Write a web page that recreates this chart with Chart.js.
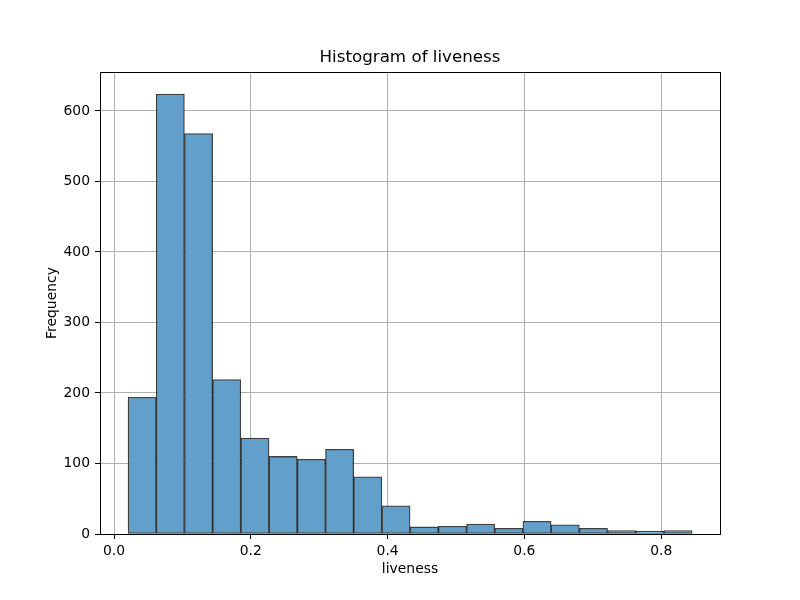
<!DOCTYPE html>
<html>
<head>
<meta charset="utf-8">
<script src="https://cdn.jsdelivr.net/npm/chart.js@4.4.1/dist/chart.umd.min.js"></script>
<style>
  html, body { margin: 0; padding: 0; background: #fff; }
  #wrap { width: 800px; height: 600px; }
</style>
</head>
<body>
<div id="wrap"><canvas id="c" width="800" height="600"></canvas></div>
<script>
// Bin centers (liveness) and frequencies
const binCenters = [0.0411, 0.0823, 0.1236, 0.1648, 0.2061, 0.2473, 0.2886, 0.3298, 0.3710, 0.4123,
                    0.4535, 0.4948, 0.5360, 0.5773, 0.6185, 0.6597, 0.7010, 0.7422, 0.7835, 0.8247];
const frequencies = [194, 624, 568, 219, 136, 110, 106, 120, 81, 40,
                     10, 11, 14, 8, 18, 13, 8, 5, 4, 5];
const xTickValues = [0.0, 0.2, 0.4, 0.6, 0.8];
const yTickValues = [0, 100, 200, 300, 400, 500, 600];

const FONT = 'DejaVu Sans';

const framePlugin = {
  id: 'frame',
  afterDatasetsDraw(chart) {
    const {ctx, chartArea: a} = chart;
    ctx.save();
    ctx.strokeStyle = '#000';
    ctx.lineWidth = 1;
    ctx.strokeRect(Math.round(a.left) + 0.5, Math.round(a.top) + 0.5,
                   Math.round(a.right - a.left), Math.round(a.bottom - a.top));
    ctx.restore();
  }
};

new Chart(document.getElementById('c'), {
  type: 'bar',
  data: {
    datasets: [{
      data: binCenters.map((x, i) => ({x: x, y: frequencies[i]})),
      backgroundColor: '#62a0cb',
      borderColor: 'rgba(0,0,0,0.75)',
      borderWidth: 1.3,
      borderSkipped: false,
      barPercentage: 1,
      categoryPercentage: 1,
      yAxisID: 'y'
    }]
  },
  plugins: [framePlugin],
  options: {
    responsive: false,
    devicePixelRatio: 1,
    animation: false,
    layout: { padding: { left: 20, right: 0, top: 0, bottom: 0 } },
    plugins: {
      legend: { display: false },
      tooltip: { enabled: false },
      title: {
        display: true,
        text: 'Histogram of liveness',
        color: '#000',
        font: { family: FONT, size: 16.7, weight: 'normal', lineHeight: 1.2 },
        padding: { top: 48, bottom: 4 }
      }
    },
    scales: {
      x: {
        type: 'linear',
        min: -0.0205,
        max: 0.886,
        offset: false,
        grid: {
          offset: false,
          color: '#b0b0b0',
          lineWidth: 1,
          drawTicks: true,
          tickLength: 5,
          tickColor: '#000',
          tickWidth: 1
        },
        border: { display: false },
        afterBuildTicks(scale) { scale.ticks = xTickValues.map(v => ({value: v})); },
        afterFit(scale) { scale.height = 66; },
        ticks: {
          color: '#000',
          padding: 4,
          maxRotation: 0,
          autoSkip: false,
          font: { family: FONT, size: 13.9 },
          callback: (v) => Number(v).toFixed(1)
        },
        title: {
          display: true,
          text: 'liveness',
          color: '#000',
          font: { family: FONT, size: 13.9, lineHeight: 1.2 },
          padding: { top: 4, bottom: 22.7 }
        }
      },
      y: {
        position: 'left',
        min: 0,
        max: 655.2,
        grid: {
          color: '#b0b0b0',
          lineWidth: 1,
          drawTicks: true,
          tickLength: 5,
          tickColor: '#000',
          tickWidth: 1
        },
        border: { display: false },
        afterBuildTicks(scale) { scale.ticks = yTickValues.map(v => ({value: v})); },
        afterFit(scale) { scale.width = 80; },
        ticks: {
          color: '#000',
          padding: 5,
          autoSkip: false,
          font: { family: FONT, size: 13.9 },
          callback: (v) => String(v)
        },
        title: {
          display: true,
          text: 'Frequency',
          color: '#000',
          font: { family: FONT, size: 13.9, lineHeight: 1.2 },
          padding: { top: 23.7, bottom: 4 }
        }
      },
      yRight: {
        position: 'right',
        min: 0,
        max: 655.2,
        grid: { display: false, drawOnChartArea: false, drawTicks: false },
        border: { display: false },
        ticks: { display: false },
        afterFit(scale) { scale.width = 80; }
      }
    }
  }
});
</script>
</body>
</html>
